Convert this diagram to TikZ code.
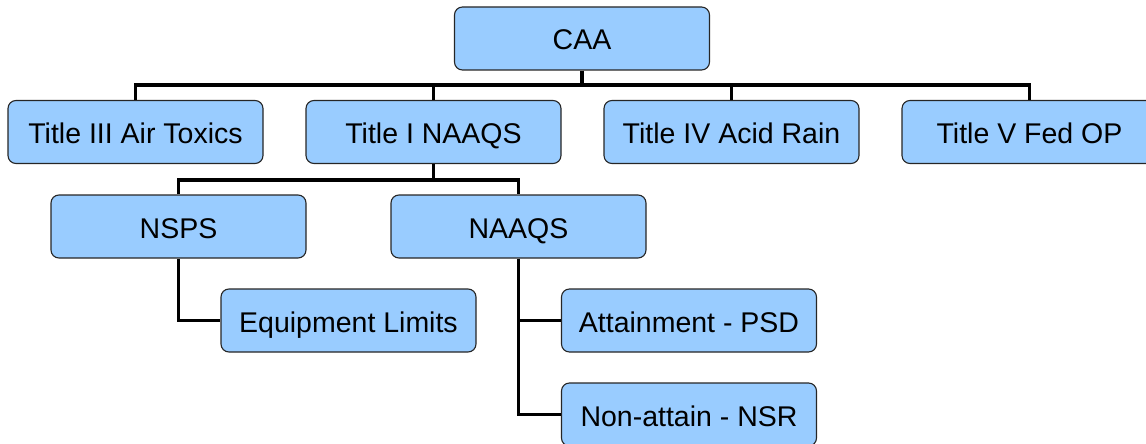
\documentclass[tikz,border=0pt]{standalone}
\usepackage{fontspec}
\setmainfont{Liberation Sans}
\begin{document}
\begin{tikzpicture}[x=1pt,y=-1pt,
  box/.style={draw=black!85,line width=1.1pt,fill=boxblue,rounded corners=8pt,
    minimum width=255pt,minimum height=63pt,inner sep=0pt,
    text height=23pt,text depth=0pt,
    font=\fontsize{28.5}{32}\selectfont},
  conn/.style={line width=3.6pt,draw=black}]
\definecolor{boxblue}{HTML}{99CCFF}
\useasboundingbox (0,0) rectangle (1146,444);
\clip (0,0) rectangle (1146,444);
% nodes
\node[box] (caa) at (582,38.5) {CAA};
\node[box] (t3) at (135.5,132) {Title III Air Toxics};
\node[box] (t1) at (433.5,132) {Title I NAAQS};
\node[box] (t4) at (731.5,132) {Title IV Acid Rain};
\node[box] (t5) at (1029.5,132) {Title V Fed OP};
\node[box] (nsps) at (178.5,226.5) {NSPS};
\node[box] (naaqs) at (518.5,226.5) {NAAQS};
\node[box] (equip) at (348.5,320.5) {Equipment Limits};
\node[box] (att) at (689,320.5) {Attainment - PSD};
\node[box] (non) at (689,414.5) {Non-attain - NSR};
% connectors
\begin{scope}[on background layer/.try]
\coordinate (b1) at (0,85);
\coordinate (b2) at (0,180);
\draw[conn] (caa.south) -- (caa.south |- b1);
\draw[conn] (t3.north) -- (t3.north |- b1) -- (t5.north |- b1) -- (t5.north);
\draw[conn] (t1.north) -- (t1.north |- b1);
\draw[conn] (t4.north) -- (t4.north |- b1);
\draw[conn] (t1.south) -- (t1.south |- b2);
\draw[conn] (nsps.north) -- (nsps.north |- b2) -- (naaqs.north |- b2) -- (naaqs.north);
\draw[conn] (nsps.south) |- (equip.west);
\draw[conn] (naaqs.south) |- (att.west);
\draw[conn] (naaqs.south) |- (non.west);
\end{scope}
\end{tikzpicture}
\end{document}
